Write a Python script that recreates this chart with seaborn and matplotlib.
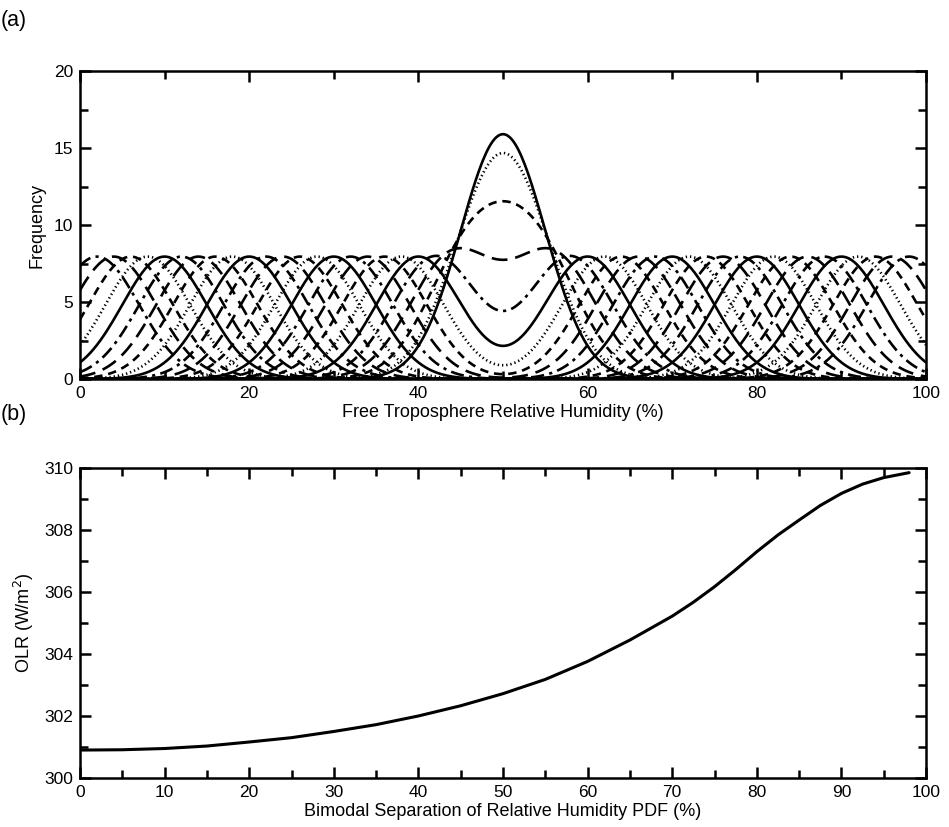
import numpy as np
import pandas as pd
import matplotlib
matplotlib.use("Agg")
import matplotlib.pyplot as plt
import seaborn as sns
from matplotlib.ticker import MultipleLocator

# ---------------- data ----------------
# Panel (a): bimodal RH PDFs, each the sum of two equal gaussian modes
half_separation = [0, 2, 4, 6, 8, 10, 12, 14, 16, 18, 20, 22, 24,
                   26, 28, 30, 32, 34, 36, 38, 40, 42, 44, 46, 48]
pdf_center = 50.0      # centre of the distribution (%)
mode_peak = 7.95       # peak frequency of one mode
mode_width = 5.0       # std-dev of one mode (%)
rh_grid = np.linspace(0, 100, 501)

# Panel (b): OLR vs bimodal separation
separation = [0, 5, 10, 15, 20, 25, 30, 35, 40, 45, 50, 55, 60, 65,
              70, 72.5, 75, 77.5, 80, 82.5, 85, 87.5, 90, 92.5, 95, 98]
olr = [300.90, 300.91, 300.95, 301.03, 301.16, 301.30, 301.50, 301.72,
       302.00, 302.33, 302.72, 303.18, 303.76, 304.45,
       305.22, 305.67, 306.17, 306.72, 307.30, 307.84, 308.32, 308.79,
       309.18, 309.48, 309.69, 309.85]

# ---------------- style ----------------
sns.set_theme(style="ticks")
plt.rcParams['font.family'] = ['Liberation Sans', 'DejaVu Sans']
plt.rcParams.update({
    "axes.linewidth": 1.8,
    "xtick.direction": "in", "ytick.direction": "in",
    "xtick.top": True, "ytick.right": True,
    "xtick.major.size": 8, "ytick.major.size": 8,
    "xtick.minor.size": 5.5, "ytick.minor.size": 5.5,
    "xtick.major.width": 1.8, "ytick.major.width": 1.8,
    "xtick.minor.width": 1.8, "ytick.minor.width": 1.8,
    "xtick.major.pad": 5, "ytick.major.pad": 5,
    "xtick.labelsize": 12.5, "ytick.labelsize": 12.5,
    "axes.labelsize": 13,
    "xtick.color": "black", "ytick.color": "black",
    "axes.edgecolor": "black", "text.color": "black",
    "axes.labelcolor": "black",
})

fig = plt.figure(figsize=(9.49, 8.27), dpi=100)
ax1 = fig.add_axes([0.0843, 0.5417, 0.8915, 0.3724])
ax2 = fig.add_axes([0.0843, 0.0593, 0.8915, 0.3748])

styles = ["-", (0, (0.5, 1.1)), (0, (3.2, 2.2)), (0, (6, 3)), (0, (5, 2, 1.2, 2))]

for i, d in enumerate(half_separation):
    f = (mode_peak * np.exp(-(rh_grid - (pdf_center - d)) ** 2 / (2 * mode_width ** 2))
         + mode_peak * np.exp(-(rh_grid - (pdf_center + d)) ** 2 / (2 * mode_width ** 2)))
    df = pd.DataFrame({"rh": rh_grid, "freq": f})
    sns.lineplot(data=df, x="rh", y="freq", ax=ax1, color="black",
                 linewidth=1.9, linestyle=styles[i % len(styles)],
                 errorbar=None, sort=False, estimator=None)

ax1.set_xlim(0, 100)
ax1.set_ylim(0, 20)
ax1.xaxis.set_major_locator(MultipleLocator(20))
ax1.xaxis.set_minor_locator(MultipleLocator(10))
ax1.yaxis.set_major_locator(MultipleLocator(5))
ax1.yaxis.set_minor_locator(MultipleLocator(2.5))
ax1.set_xlabel("Free Troposphere Relative Humidity (%)", labelpad=2)
ax1.set_ylabel("Frequency", labelpad=6)

dfo = pd.DataFrame({"sep": separation, "olr": olr})
sns.lineplot(data=dfo, x="sep", y="olr", ax=ax2, color="black",
             linewidth=2.2, errorbar=None, sort=False, estimator=None)
ax2.set_xlim(0, 100)
ax2.set_ylim(300, 310)
ax2.xaxis.set_major_locator(MultipleLocator(10))
ax2.xaxis.set_minor_locator(MultipleLocator(5))
ax2.yaxis.set_major_locator(MultipleLocator(2))
ax2.yaxis.set_minor_locator(MultipleLocator(1))
ax2.set_xlabel("Bimodal Separation of Relative Humidity PDF (%)", labelpad=2)
ax2.set_ylabel("OLR (W/m$^2$)", labelpad=6)

for ax in (ax1, ax2):
    ax.tick_params(which="both", top=True, right=True, direction="in")
    for s in ax.spines.values():
        s.set_visible(True)

fig.text(0.001, 0.988, "(a)", fontsize=15.5, ha="left", va="top")
fig.text(0.001, 0.512, "(b)", fontsize=15.5, ha="left", va="top")

fig.savefig("out.png", dpi=100)
